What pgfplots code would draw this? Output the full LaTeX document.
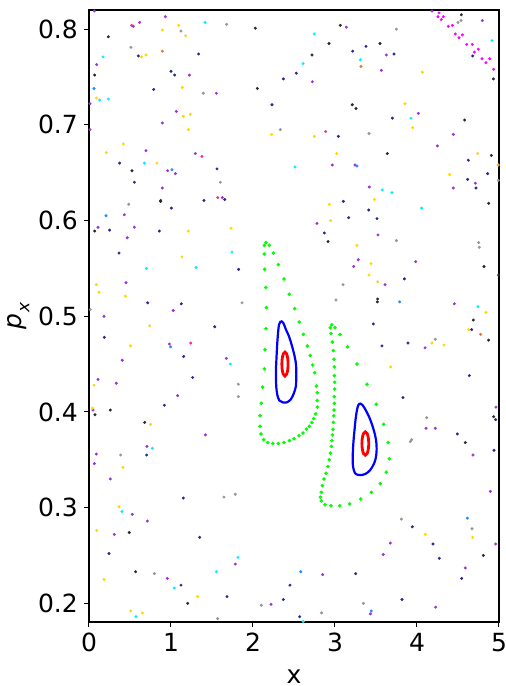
\documentclass[border=0pt]{standalone}
\usepackage{fontspec}
\setmainfont{DejaVu Sans}
\usepackage{pgfplots}
\pgfplotsset{compat=1.18}
\definecolor{cpurple}{RGB}{155,50,215}
\definecolor{cnavy}{RGB}{40,40,140}
\definecolor{cyellow}{RGB}{255,215,0}
\definecolor{ccyan}{RGB}{0,240,255}
\definecolor{cgray}{RGB}{150,150,150}
\definecolor{cblack}{RGB}{40,40,40}
\definecolor{cdodger}{RGB}{30,144,255}
\definecolor{corange}{RGB}{230,120,50}
\definecolor{cpink}{RGB}{255,40,150}
\definecolor{cmagenta}{RGB}{255,0,255}
\definecolor{cgold}{RGB}{240,170,0}
\definecolor{cgreen}{RGB}{0,255,0}
\pgfplotsset{sc/.style={only marks, mark=*, mark size=1.3pt, color=#1, mark options={draw=none, fill=#1}}}
\begin{document}
\begin{tikzpicture}
\useasboundingbox (-89pt,-64pt) rectangle (417pt,622pt);
\begin{axis}[
  at={(0,0)}, anchor=south west,
  width=410pt, height=612pt, scale only axis,
  xmin=0, xmax=5, ymin=0.1805, ymax=0.82,
  xtick={0,1,2,3,4,5}, xticklabels={0,1,2,3,4,5},
  ytick={0.2,0.3,0.4,0.5,0.6,0.7,0.8}, yticklabels={0.2,0.3,0.4,0.5,0.6,0.7,0.8},
  tick pos=left, tick align=outside, major tick length=5pt,
  every tick/.style={black, line width=1pt},
  axis line style={black, line width=1.2pt},
  ticklabel style={font=\fontsize{25}{30}\selectfont, inner sep=0pt},
  xticklabel style={yshift=-6pt},
  yticklabel style={xshift=-6pt},
  xlabel={x}, ylabel={{\itshape p}\kern0.5pt\raisebox{-0.3em}{\fontsize{17}{17}\selectfont\itshape x}},
  every axis x label/.style={at={(axis description cs:0.5,0)}, anchor=base, inner sep=0pt, yshift=-61pt, font=\fontsize{25}{30}\selectfont},
  every axis y label/.style={at={(axis description cs:0,0.5)}, anchor=base, inner sep=0pt, xshift=-67pt, rotate=90, font=\fontsize{25}{30}\selectfont},
]
% purple
\addplot[sc=cpurple] coordinates {
(0.065,0.819)(0.54,0.803)(0.618,0.807)(0.931,0.813)(0.094,0.763)(1.224,0.752)(0.012,0.722)(1.553,0.733)(1.065,0.714)(0.894,0.702)(0.012,0.695)(0.695,0.673)(1.297,0.670)(0.959,0.652)(1.053,0.649)(0.894,0.634)(1.626,0.624)(0.431,0.606)(0.110,0.593)(0.553,0.593)(0.467,0.582)
(3.138,0.802)(3.626,0.773)(2.724,0.745)(3.565,0.757)(4.016,0.712)(4.443,0.690)(4.248,0.678)(2.967,0.658)(3.244,0.658)(4.711,0.639)(4.443,0.634)(3.418,0.635)(2.780,0.597)(3.524,0.585)(4.797,0.809)(4.183,0.819)
(0.451,0.535)(0.183,0.500)(1.028,0.506)(0.980,0.471)(0.406,0.454)(1.674,0.456)(0.110,0.434)(0.333,0.430)(1.081,0.417)(0.049,0.402)(1.419,0.376)(0.707,0.364)(0.089,0.356)
(0.065,0.346)(0.260,0.330)(0.528,0.293)(0.711,0.286)(0.309,0.272)(1.784,0.241)(0.955,0.226)
(4.683,0.355)(4.894,0.317)(3.675,0.263)(4.959,0.262)(3.589,0.251)(4.589,0.237)(2.850,0.230)(2.220,0.199)(3.431,0.189)(4.228,0.196)
(3.284,0.559)(3.228,0.552)(3.984,0.557)(3.610,0.533)(4.455,0.513)(4.098,0.467)(4.963,0.405)(4.110,0.383)(4.223,0.383)
};
% navy
\addplot[sc=cnavy] coordinates {
(0.601,0.772)(1.337,0.774)(1.0,0.756)(1.045,0.752)(0.789,0.737)(0.374,0.660)(1.561,0.654)(0.553,0.640)(0.874,0.621)(1.402,0.621)(1.655,0.622)(1.004,0.613)(0.252,0.590)(0.858,0.589)
(3.378,0.782)(3.216,0.777)(3.720,0.774)(2.528,0.754)(2.370,0.748)(2.232,0.721)(3.699,0.707)(3.041,0.688)(4.626,0.663)(4.862,0.649)(4.618,0.643)(4.720,0.634)(3.102,0.620)(3.411,0.611)(3.167,0.603)(3.512,0.602)(2.870,0.587)(4.679,0.772)
(0.366,0.566)(1.825,0.549)(0.716,0.514)(1.126,0.513)(1.533,0.489)(0.187,0.478)(1.155,0.458)(1.264,0.436)(0.919,0.407)(0.703,0.355)
(1.150,0.310)(1.350,0.269)(0.244,0.252)(1.122,0.219)(1.683,0.207)
(4.939,0.360)(3.943,0.280)(4.195,0.262)(4.272,0.247)(4.545,0.226)(3.252,0.231)(2.451,0.219)(2.370,0.204)(2.569,0.186)(3.817,0.204)
(3.846,0.539)(3.467,0.492)(4.667,0.486)(3.890,0.472)(3.573,0.469)(4.638,0.438)(3.829,0.415)(4.959,0.392)(4.492,0.377)
};
% yellow
\addplot[sc=cyellow] coordinates {
(1.094,0.804)(0.894,0.799)(1.179,0.793)(0.638,0.771)(0.695,0.773)(1.138,0.739)(0.089,0.728)(1.150,0.709)(1.236,0.711)(1.211,0.695)(0.419,0.680)(0.211,0.671)(0.829,0.660)(1.211,0.589)(1.732,0.592)
(4.065,0.755)(3.854,0.722)(3.947,0.697)(2.228,0.690)(2.748,0.688)(3.020,0.670)(4.740,0.670)(4.398,0.648)(3.480,0.622)(2.931,0.617)(2.947,0.600)(3.268,0.574)
(1.134,0.562)(0.089,0.533)(0.122,0.525)(0.443,0.521)(0.740,0.490)(0.508,0.469)(0.061,0.428)(0.045,0.404)(0.752,0.387)
(0.415,0.342)(0.366,0.301)(0.094,0.276)(0.183,0.225)(1.325,0.207)(0.508,0.192)(0.650,0.190)
(4.102,0.272)(4.679,0.269)
(3.439,0.555)(3.415,0.543)(3.520,0.536)(4.841,0.504)(4.630,0.486)(4.183,0.472)(4.329,0.470)(3.679,0.447)
};
\addplot[sc=cgold] coordinates {(4.991,0.658)};
% cyan
\addplot[sc=ccyan] coordinates {
(1.415,0.807)(0.171,0.771)(0.130,0.726)(0.236,0.727)(0.675,0.660)
(2.748,0.795)(3.309,0.768)(2.610,0.764)(3.927,0.707)(2.512,0.656)(3.577,0.632)(3.695,0.629)(4.057,0.613)(4.915,0.788)
(1.744,0.567)(0.699,0.550)(1.305,0.551)(1.723,0.450)(0.772,0.362)
(0.402,0.296)(1.817,0.248)(1.553,0.233)(1.041,0.216)(0.573,0.186)
(2.613,0.181)(4.744,0.510)
};
% gray
\addplot[sc=cgray] coordinates {
(1.121,0.798)(1.679,0.805)(0.512,0.781)(1.394,0.733)(1.602,0.640)(0.484,0.617)
(3.748,0.800)(2.333,0.695)(3.415,0.691)(4.991,0.642)(3.748,0.579)(4.752,0.577)(4.760,0.572)(4.500,0.807)(4.537,0.809)
(1.866,0.514)(0.016,0.507)(1.821,0.429)(1.821,0.416)(0.386,0.355)
(1.646,0.311)(1.784,0.314)(0.797,0.231)(1.569,0.184)
(3.809,0.288)(4.671,0.278)(2.101,0.198)(2.837,0.190)(3.346,0.200)
(3.098,0.533)(3.012,0.517)(4.223,0.476)(4.118,0.394)(3.935,0.371)(3.918,0.369)
};
% black
\addplot[sc=cblack] coordinates {
(0.236,0.792)(0.069,0.752)(0.524,0.652)(0.874,0.620)(0.069,0.589)
(2.028,0.801)(3.065,0.804)(2.927,0.785)(3.549,0.785)(2.720,0.773)(2.053,0.738)(3.211,0.721)(3.256,0.717)(4.581,0.705)(3.638,0.670)(4.907,0.668)(4.874,0.618)(2.915,0.578)(4.541,0.815)(4.931,0.748)
(0.073,0.397)(0.260,0.402)(0.679,0.389)
(0.491,0.274)(0.569,0.233)(1.204,0.200)
(4.809,0.250)
(4.817,0.552)(4.995,0.543)(3.520,0.518)(3.516,0.515)(4.687,0.496)(4.874,0.475)(4.935,0.395)(4.589,0.368)
};
% dodger blue
\addplot[sc=cdodger] coordinates {
(0.061,0.738)(1.012,0.653)(0.207,0.605)(3.268,0.657)(0.996,0.468)(4.614,0.289)(2.582,0.233)(3.443,0.192)(3.789,0.515)
};
% orange
\addplot[sc=corange] coordinates {(0.894,0.777)(3.317,0.761)(4.776,0.481)};
% deep pink
\addplot[sc=cpink] coordinates {(0.52,0.804)(1.378,0.667)(1.569,0.624)(2.886,0.693)(1.240,0.472)};
% magenta chain
\addplot[sc=cmagenta] coordinates {
(4.268,0.817)(4.256,0.813)(4.321,0.813)(4.297,0.810)(4.382,0.803)(4.431,0.804)(4.467,0.795)(4.512,0.791)(4.553,0.794)(4.606,0.784)(4.675,0.784)(4.699,0.776)(4.748,0.779)(4.793,0.769)(4.841,0.765)(4.887,0.769)(4.935,0.758)
};
% green island chain
\addplot[only marks, mark=*, mark size=1.6pt, color=cgreen, mark options={draw=none, fill=cgreen}] coordinates {
(2.159,0.577)(2.199,0.574)(2.248,0.566)(2.309,0.554)(2.378,0.539)(2.443,0.523)(2.508,0.508)(2.565,0.494)(2.614,0.481)(2.662,0.469)(2.699,0.459)(2.728,0.449)(2.752,0.441)(2.772,0.427)(2.784,0.420)(2.784,0.412)(2.784,0.405)(2.765,0.398)(2.740,0.393)(2.716,0.389)(2.687,0.385)(2.650,0.382)(2.610,0.378)(2.561,0.375)(2.500,0.372)(2.443,0.370)(2.378,0.368)(2.309,0.367)(2.240,0.367)(2.179,0.368)(2.130,0.371)(2.098,0.377)(2.085,0.385)(2.085,0.396)(2.101,0.409)(2.118,0.426)(2.138,0.445)(2.146,0.465)(2.159,0.487)(2.162,0.509)(2.155,0.530)(2.143,0.549)(2.138,0.565)(2.138,0.574)
(2.960,0.491)(3.000,0.488)(3.061,0.481)(3.155,0.468)(3.268,0.450)(3.390,0.429)(3.504,0.408)(3.594,0.387)(3.650,0.368)(3.662,0.351)(3.626,0.337)(3.552,0.325)(3.443,0.316)(3.313,0.309)(3.179,0.304)(3.057,0.302)(2.951,0.302)(2.878,0.303)(2.833,0.307)(2.821,0.311)(2.833,0.316)(2.845,0.323)(2.866,0.330)(2.890,0.336)(2.915,0.343)(2.930,0.350)(2.943,0.357)(2.955,0.364)(2.963,0.370)(2.967,0.376)(2.976,0.382)(2.980,0.389)(2.984,0.396)(2.988,0.402)(2.992,0.409)(2.992,0.416)(2.996,0.424)(2.996,0.431)(2.992,0.438)(2.992,0.447)(2.988,0.455)(2.980,0.464)(2.967,0.473)(2.951,0.482)(2.943,0.488)
};
% blue loops
\addplot[blue, line width=2.2pt, smooth, tension=0.5] coordinates {
(2.341,0.495)(2.370,0.493)(2.402,0.486)(2.439,0.479)(2.472,0.470)(2.500,0.461)(2.521,0.452)(2.528,0.444)(2.528,0.435)(2.521,0.426)(2.496,0.419)(2.460,0.413)(2.411,0.410)(2.362,0.410)(2.321,0.412)(2.296,0.418)(2.284,0.426)(2.280,0.435)(2.280,0.444)(2.284,0.452)(2.289,0.461)(2.296,0.472)(2.305,0.482)(2.317,0.491)(2.341,0.495)
};
\addplot[blue, line width=2.2pt, smooth, tension=0.5] coordinates {
(3.305,0.409)(3.338,0.407)(3.374,0.402)(3.415,0.395)(3.451,0.387)(3.479,0.379)(3.500,0.371)(3.508,0.362)(3.500,0.353)(3.476,0.346)(3.427,0.339)(3.366,0.335)(3.296,0.334)(3.244,0.336)(3.220,0.343)(3.216,0.352)(3.220,0.362)(3.228,0.372)(3.240,0.383)(3.252,0.393)(3.268,0.402)(3.284,0.407)(3.305,0.409)
};
% red ellipses
\addplot[red, line width=2.8pt, smooth, tension=0.6] coordinates {
(2.428,0.450)(2.423,0.4563)(2.409,0.4608)(2.390,0.4625)(2.371,0.4608)(2.357,0.4563)(2.352,0.450)(2.357,0.4438)(2.371,0.4392)(2.390,0.4375)(2.409,0.4392)(2.423,0.4438)(2.428,0.450)
};
\addplot[red, line width=2.8pt, smooth, tension=0.6] coordinates {
(3.412,0.367)(3.406,0.3731)(3.391,0.3776)(3.370,0.3792)(3.349,0.3776)(3.334,0.3731)(3.328,0.367)(3.334,0.3609)(3.349,0.3564)(3.370,0.3548)(3.391,0.3564)(3.406,0.3609)(3.412,0.367)
};
\end{axis}
\end{tikzpicture}
\end{document}
